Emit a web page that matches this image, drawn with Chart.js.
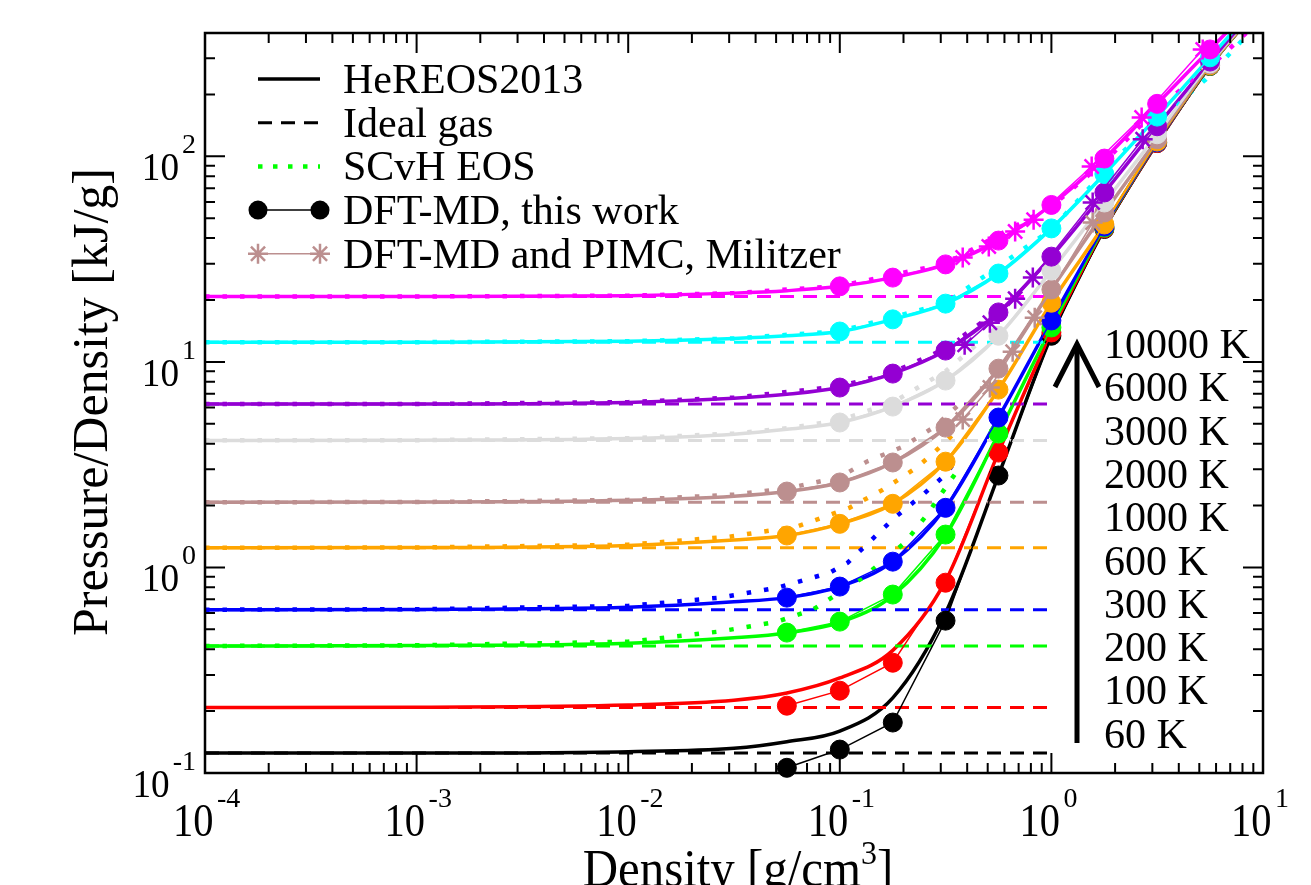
<!DOCTYPE html>
<html>
<head>
<meta charset="utf-8">
<title>Helium EOS isotherms</title>
<script src="https://cdn.jsdelivr.net/npm/chart.js@4"></script>
<style>
html, body { margin: 0; padding: 0; background: #fff; overflow: hidden; }
#wrap { width: 1311px; height: 885px; }
</style>
</head>
<body>
<div id="wrap"><canvas id="eos" width="1311" height="885"></canvas></div>
<script>
// isotherms, hottest first
const temperatures = ['10000 K', '6000 K', '3000 K', '2000 K', '1000 K', '600 K', '300 K', '200 K', '100 K', '60 K'];
const colors = ['#ff00ff', '#00ffff', '#9400d3', '#dcdcdc', '#bc8f8f', '#ffa500', '#0000ff', '#00ff00', '#ff0000', '#000000'];

// ideal gas P/rho [kJ/g], flat from 1e-4 to 1 g/cm3
const idealDensity = [1e-4, 1.0];
const idealGas = [20.77, 12.46, 6.23, 4.15, 2.077, 1.246, 0.623, 0.415, 0.208, 0.125];

// HeREOS2013
const hereosDensity = [1e-4, 1e-3, 0.01, 0.0316, 0.0562, 0.1, 0.178, 0.316, 0.562, 1.0, 1.78, 3.16, 5.62, 10];
const hereosP = [
    [20.77, 20.8, 21.0, 21.6, 22.2, 23.3, 25.7, 29.8, 38.9, 58.0, 97.5, 180, 331, 610],
    [12.46, 12.47, 12.6, 13.0, 13.4, 14.05, 16.1, 19.2, 26.9, 44.6, 82.0, 156, 303, 590],
    [6.23, 6.24, 6.35, 6.65, 6.95, 7.5, 8.77, 11.35, 17.4, 32.5, 66.7, 140, 289, 580],
    [4.15, 4.16, 4.24, 4.45, 4.7, 5.07, 6.06, 8.11, 13.4, 27.8, 59.6, 128, 283, 570],
    [2.077, 2.08, 2.12, 2.22, 2.34, 2.59, 3.24, 4.79, 9.27, 22.5, 53.3, 121, 280, 565],
    [1.246, 1.25, 1.28, 1.36, 1.43, 1.63, 2.04, 3.27, 7.33, 19.4, 46.6, 118, 277, 560],
    [0.623, 0.625, 0.64, 0.68, 0.713, 0.807, 1.067, 1.95, 5.36, 15.9, 45.5, 117, 277, 560],
    [0.415, 0.417, 0.428, 0.455, 0.48, 0.54, 0.73, 1.43, 4.48, 14.7, 45.0, 117, 276, 560],
    [0.208, 0.209, 0.214, 0.226, 0.245, 0.290, 0.395, 0.86, 3.62, 13.9, 44.6, 116, 276, 560],
    [0.125, 0.125, 0.127, 0.132, 0.142, 0.160, 0.232, 0.60, 2.80, 13.4, 44.3, 116, 275, 560]
];

// DFT-MD, this work
const dftDensity = [0.0562, 0.1, 0.178, 0.316, 0.562, 1.0, 1.78, 3.16, 5.62];
const dftP = [
    [null, 23.3, 25.7, 29.8, 38.9, 58.0, 97.5, 180, 331],
    [null, 14.05, 16.1, 19.2, 26.9, 44.6, 82.0, 156, 303],
    [null, 7.50, 8.77, 11.35, 17.4, 32.5, 66.7, 140, 289],
    [null, 5.07, 6.06, 8.11, 13.4, 27.8, 59.6, 128, 283],
    [2.34, 2.59, 3.24, 4.79, 9.27, 22.5, 53.3, 121, 280],
    [1.43, 1.63, 2.04, 3.27, 7.33, 19.4, 46.6, 118, 277],
    [0.713, 0.807, 1.067, 1.95, 5.36, 15.9, 45.5, 117, 277],
    [0.482, 0.545, 0.738, 1.445, 4.48, 14.7, 45.0, 117, 276],
    [0.2126, 0.2515, 0.344, 0.843, 3.62, 13.9, 44.6, 116, 276],
    [0.106, 0.130, 0.176, 0.551, 2.80, 13.4, 44.3, 116, 275]
];

// SCvH EOS (none drawn for 100 K and 60 K)
const scvhDensity = [
    [1e-4, 1e-3, 0.01, 0.0316, 0.1, 0.316, 1.0, 1.78, 3.16, 6.12, 8.2, 10],
    [1e-4, 1e-3, 0.01, 0.0316, 0.1, 0.316, 1.0, 2.1, 3.16, 5.37, 8.3, 10],
    [1e-4, 1e-3, 0.01, 0.0316, 0.1, 0.178, 0.316, 0.562],
    [1e-4, 1e-3, 0.01, 0.0316, 0.0562, 0.1, 0.178, 0.316, 0.45],
    [1e-4, 1e-3, 0.01, 0.0316, 0.0562, 0.1, 0.134, 0.199, 0.281, 0.331, 0.381],
    [1e-4, 1e-3, 0.01, 0.03, 0.0627, 0.111, 0.16, 0.231, 0.307, 0.361],
    [1e-4, 1e-3, 0.01, 0.0271, 0.051, 0.0897, 0.109, 0.182, 0.247, 0.32, 0.361],
    [1e-4, 1e-3, 0.01, 0.0271, 0.0504, 0.0745, 0.1286, 0.203, 0.261, 0.331, 0.377],
    [],
    []
];
const scvhP = [
    [20.8, 20.8, 21.0, 21.6, 23.4, 30.0, 57, 94, 170, 296, 392, 480],
    [12.46, 12.47, 12.6, 13.0, 14.1, 19.3, 44, 102, 148, 237, 383, 470],
    [6.23, 6.24, 6.37, 6.7, 7.6, 8.9, 11.6, 17.8],
    [4.15, 4.16, 4.25, 4.48, 4.75, 5.2, 6.35, 9.0, 12.3],
    [2.077, 2.08, 2.13, 2.26, 2.42, 2.75, 3.27, 3.87, 4.84, 5.66, 6.41],
    [1.246, 1.25, 1.29, 1.41, 1.58, 1.95, 2.39, 3.06, 3.96, 4.68],
    [0.623, 0.626, 0.65, 0.713, 0.798, 0.943, 1.055, 1.75, 2.26, 2.86, 3.46],
    [0.415, 0.418, 0.435, 0.488, 0.544, 0.623, 0.892, 1.32, 1.83, 2.62, 3.16],
    [],
    []
];

// DFT-MD and PIMC, Militzer (10000 K, 3000 K, 1000 K)
const militzerTemp = [0, 2, 4];
const militzerDensity = [
    [0.381, 0.506, 0.674, 0.824, 1.55, 2.67, 5.19],
    [0.389, 0.512, 0.674, 0.817, 1.567, 2.70],
    [0.381, 0.512, 0.656, 0.834, 1.567]
];
const militzerP = [
    [32.2, 36.4, 43.1, 49.2, 89.2, 154.5, 331],
    [12.1, 15.5, 20.3, 25.7, 59.6, 121],
    [5.24, 7.50, 11.2, 16.4, 47.6]
];

const xTicks = [1e-4, 1e-3, 1e-2, 1e-1, 1, 10];
const xTickExp = ['-4', '-3', '-2', '-1', '0', '1'];
const yTicks = [0.1, 1, 10, 100];
const yTickExp = ['-1', '0', '1', '2'];

const legendLabels = ['HeREOS2013', 'Ideal gas', 'SCvH EOS', 'DFT-MD, this work', 'DFT-MD and PIMC, Militzer'];

const serif = '"Liberation Serif", "Times New Roman", Times, serif';

function pts(xs, ys) {
    return xs.map((x, i) => ({ x: x, y: ys[i] })).filter(p => p.y != null);
}

const datasets = [];
temperatures.forEach((t, i) => {
    datasets.push({
        label: 'HeREOS2013 ' + t,
        data: pts(hereosDensity, hereosP[i]),
        borderColor: colors[i],
        borderWidth: 3.5,
        pointRadius: 0,
        cubicInterpolationMode: 'monotone',
        order: 80 + i
    });
    datasets.push({
        label: 'Ideal gas ' + t,
        data: pts(idealDensity, [idealGas[i], idealGas[i]]),
        borderColor: colors[i],
        borderWidth: 3,
        borderDash: [14, 9],
        pointRadius: 0,
        order: 60 + i
    });
    if (scvhDensity[i].length) {
        datasets.push({
            label: 'SCvH EOS ' + t,
            data: pts(scvhDensity[i], scvhP[i]),
            borderColor: colors[i],
            borderWidth: 4.5,
            borderDash: [4.5, 13],
            pointRadius: 0,
            order: 40 + i
        });
    }
    datasets.push({
        label: 'DFT-MD ' + t,
        data: pts(dftDensity, dftP[i]),
        borderColor: colors[i],
        borderWidth: 1.5,
        pointRadius: 9.5,
        pointBackgroundColor: colors[i],
        pointBorderColor: colors[i],
        pointBorderWidth: 1,
        clip: 12,
        order: 20 + i
    });
});
militzerTemp.forEach((ti, k) => {
    datasets.push({
        label: 'Militzer ' + temperatures[ti],
        data: pts(militzerDensity[k], militzerP[k]),
        borderColor: colors[ti],
        borderWidth: 1.5,
        pointStyle: 'star',
        pointRadius: 10,
        pointBorderColor: colors[ti],
        pointBorderWidth: 2.5,
        order: ti
    });
});

function squeezeText(ctx, text, x, y, sx) {
    ctx.save();
    ctx.translate(x, y);
    ctx.scale(sx, 1);
    ctx.fillText(text, 0, 0);
    ctx.restore();
}

function drawStar(ctx, x, y, r) {
    ctx.beginPath();
    for (let k = 0; k < 4; k++) {
        const a = k * Math.PI / 4;
        ctx.moveTo(x - r * Math.cos(a), y - r * Math.sin(a));
        ctx.lineTo(x + r * Math.cos(a), y + r * Math.sin(a));
    }
    ctx.stroke();
}

const decorations = {
    id: 'decorations',
    afterDraw(chart) {
        const ctx = chart.ctx;
        const a = chart.chartArea;
        const xs = chart.scales.x;
        const ys = chart.scales.y;
        ctx.save();

        // inward ticks on all four sides
        ctx.strokeStyle = '#000';
        ctx.lineWidth = 2;
        ctx.beginPath();
        for (let d = -4; d <= 1; d++) {
            for (let m = 1; m <= 9; m++) {
                const v = m * Math.pow(10, d);
                if (v < xs.min * 0.999 || v > xs.max * 1.001) continue;
                const px = xs.getPixelForValue(v);
                const len = m === 1 ? 20 : 10;
                ctx.moveTo(px, a.bottom); ctx.lineTo(px, a.bottom - len);
                ctx.moveTo(px, a.top); ctx.lineTo(px, a.top + len);
            }
        }
        for (let d = -1; d <= 2; d++) {
            for (let m = 1; m <= 9; m++) {
                const v = m * Math.pow(10, d);
                if (v < ys.min * 0.999 || v > ys.max) continue;
                const py = ys.getPixelForValue(v);
                const len = m === 1 ? 20 : 10;
                ctx.moveTo(a.left, py); ctx.lineTo(a.left + len, py);
                ctx.moveTo(a.right, py); ctx.lineTo(a.right - len, py);
            }
        }
        ctx.stroke();
        ctx.lineWidth = 2.5;
        ctx.strokeRect(a.left, a.top, a.right - a.left, a.bottom - a.top);

        // tick labels
        ctx.fillStyle = '#000';
        ctx.textAlign = 'left';
        ctx.textBaseline = 'alphabetic';
        xTicks.forEach((v, i) => {
            const px = xs.getPixelForValue(v);
            ctx.font = '46px ' + serif;
            squeezeText(ctx, '10', px - 32, a.bottom + 63, 0.88);
            ctx.font = '28px ' + serif;
            ctx.fillText(xTickExp[i], px + 12, a.bottom + 34);
        });
        yTicks.forEach((v, i) => {
            const py = ys.getPixelForValue(v);
            ctx.font = '28px ' + serif;
            const ex = a.left - 9 - ctx.measureText(yTickExp[i]).width;
            ctx.fillText(yTickExp[i], ex, py - 3);
            ctx.font = '40px ' + serif;
            const tw = ctx.measureText('10').width * 0.93;
            squeezeText(ctx, '10', ex - 3 - tw, py + 24, 0.93);
        });

        // axis titles
        ctx.save();
        ctx.translate(107, 402);
        ctx.rotate(-Math.PI / 2);
        ctx.textAlign = 'center';
        ctx.font = '50px ' + serif;
        ctx.fillText('Pressure/Density [kJ/g]', 0, 0);
        ctx.restore();

        ctx.font = '52px ' + serif;
        const t1 = 'Density [g/cm';
        const w1 = ctx.measureText(t1).width * 0.94;
        ctx.font = '34px ' + serif;
        const w2 = ctx.measureText('3').width * 0.94;
        ctx.font = '52px ' + serif;
        const w3 = ctx.measureText(']').width * 0.94;
        const cx = (a.left + a.right) / 2 + 4;
        let tx = cx - (w1 + w2 + w3) / 2;
        squeezeText(ctx, t1, tx, 886, 0.94);
        tx += w1;
        ctx.font = '34px ' + serif;
        squeezeText(ctx, '3', tx, 864, 0.94);
        tx += w2;
        ctx.font = '52px ' + serif;
        squeezeText(ctx, ']', tx, 886, 0.94);

        // legend
        const lx0 = 258, lx1 = 320;
        ctx.font = '42px ' + serif;
        legendLabels.forEach((lab, k) => {
            const yb = 93 + 43.7 * k;
            const yl = yb - 14;
            ctx.setLineDash([]);
            ctx.fillStyle = '#000';
            ctx.fillText(lab, 343, yb);
            ctx.beginPath();
            ctx.moveTo(lx0, yl); ctx.lineTo(lx1, yl);
            if (k === 0) {
                ctx.strokeStyle = '#000'; ctx.lineWidth = 3.5; ctx.stroke();
            } else if (k === 1) {
                ctx.strokeStyle = '#000'; ctx.lineWidth = 3; ctx.setLineDash([14, 9]); ctx.stroke();
            } else if (k === 2) {
                ctx.strokeStyle = '#00ff00'; ctx.lineWidth = 4.5; ctx.setLineDash([4.5, 10.5]); ctx.stroke();
            } else if (k === 3) {
                ctx.strokeStyle = '#000'; ctx.lineWidth = 1.5; ctx.stroke();
                ctx.fillStyle = '#000';
                [lx0, lx1].forEach(px => { ctx.beginPath(); ctx.arc(px, yl, 9.5, 0, 2 * Math.PI); ctx.fill(); });
            } else {
                ctx.strokeStyle = '#bc8f8f'; ctx.lineWidth = 1.5; ctx.stroke();
                ctx.lineWidth = 2.5;
                drawStar(ctx, lx0, yl, 10);
                drawStar(ctx, lx1, yl, 10);
            }
        });
        ctx.setLineDash([]);

        // temperature labels and arrow
        ctx.fillStyle = '#000';
        ctx.font = '42px ' + serif;
        temperatures.forEach((t, i) => {
            ctx.fillText(t, 1104, 358 + 43.3 * i);
        });
        ctx.strokeStyle = '#000';
        ctx.lineWidth = 5;
        ctx.lineJoin = 'miter';
        ctx.beginPath();
        ctx.moveTo(1077, 743); ctx.lineTo(1077, 346);
        ctx.stroke();
        ctx.beginPath();
        ctx.moveTo(1055, 387); ctx.lineTo(1077, 344); ctx.lineTo(1099, 387);
        ctx.stroke();

        ctx.restore();
    }
};

new Chart(document.getElementById('eos'), {
    type: 'line',
    data: { datasets: datasets },
    options: {
        responsive: false,
        devicePixelRatio: 1,
        animation: false,
        events: [],
        layout: { padding: { left: 205, right: 48, top: 33, bottom: 112 } },
        elements: { line: { tension: 0, fill: false } },
        scales: {
            x: { type: 'logarithmic', min: 1e-4, max: 10, display: false },
            y: { type: 'logarithmic', min: 0.1, max: 398, display: false }
        },
        plugins: {
            legend: { display: false },
            tooltip: { enabled: false }
        }
    },
    plugins: [decorations]
})
</script>
</body>
</html>
